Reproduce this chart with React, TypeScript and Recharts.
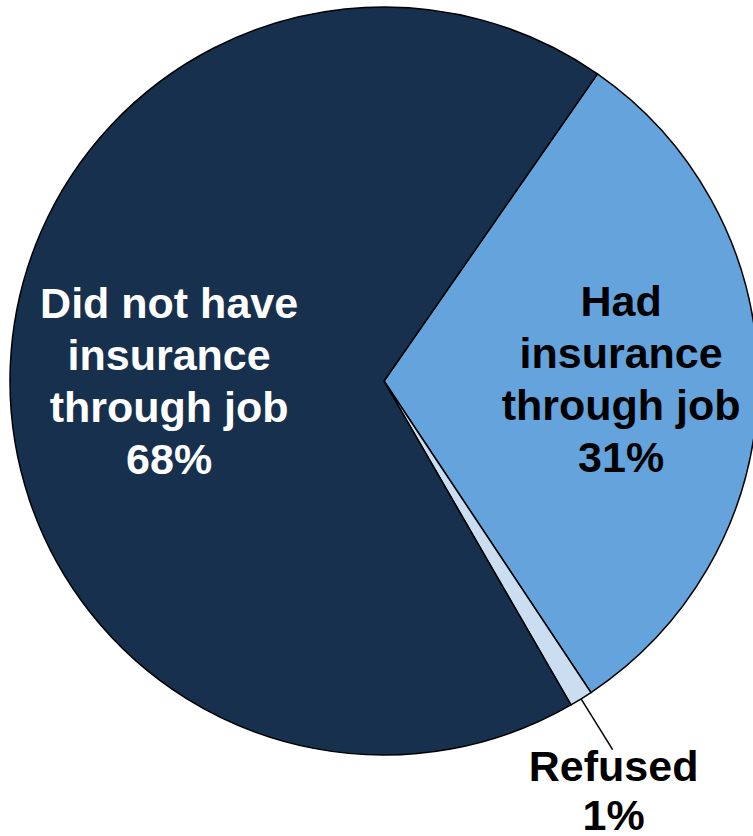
import { PieChart, Pie, Cell } from "recharts";

const categories = ["Had insurance through job", "Refused", "Did not have insurance through job"];
const values = [31, 1, 68];
const labelLines = [
  ["Had", "insurance", "through job", "31%"],
  ["Refused", "1%"],
  ["Did not have", "insurance", "through job", "68%"],
];
const colors = ["#65A3DD", "#CADDF1", "#16304E"];
const textColors = ["#000000", "#000000", "#FFFFFF"];

const data = categories.map((name, i) => ({ name, value: values[i] }));

const RADIAN = Math.PI / 180;
const FONT = "'Liberation Sans', Arial, sans-serif";
const FS = 43;
const LINE_H = 52;

// radius fraction + nudge for each label anchor
const labelPos = [
  { r: 0.634, dx: 0, dy: -4 },
  { r: 1.16, dx: 0, dy: 0 },
  { r: 0.575, dx: 0, dy: 9 },
];

function renderLabel(props: any) {
  const { cx, cy, midAngle, outerRadius, index } = props;
  const p = labelPos[index];
  const ax = cx + outerRadius * p.r * Math.cos(-midAngle * RADIAN) + p.dx;
  const ay = cy + outerRadius * p.r * Math.sin(-midAngle * RADIAN) + p.dy;
  const lines = labelLines[index];

  if (index === 1) {
    const ox = cx + outerRadius * Math.cos(-midAngle * RADIAN);
    const oy = cy + outerRadius * Math.sin(-midAngle * RADIAN);
    return (
      <g key="lbl-1">
        <line x1={ox} y1={oy} x2={ax} y2={ay} stroke="#000" strokeWidth={1.5} />
        {lines.map((t, i) => (
          <text
            key={i}
            x={ax + 1}
            y={ay + 31 + i * 49}
            textAnchor="middle"
            fontFamily={FONT}
            fontWeight="bold"
            fontSize={FS}
            fill={textColors[index]}
          >
            {t}
          </text>
        ))}
      </g>
    );
  }

  const n = lines.length;
  return (
    <g key={`lbl-${index}`}>
      {lines.map((t, i) => (
        <text
          key={i}
          x={ax}
          y={ay + (i - (n - 1) / 2) * LINE_H + 15}
          textAnchor="middle"
          fontFamily={FONT}
          fontWeight="bold"
          fontSize={FS}
          fill={textColors[index]}
        >
          {t}
        </text>
      ))}
    </g>
  );
}

export default function App() {
  return (
    <div style={{ position: "absolute", left: 0, top: 0, width: 753, height: 836, background: "#fff" }}>
      <PieChart width={753} height={836} margin={{ top: 0, right: 0, bottom: 0, left: 0 }}>
        <Pie
          data={data}
          dataKey="value"
          nameKey="name"
          cx={384}
          cy={381}
          outerRadius={374}
          startAngle={55.2}
          endAngle={-304.8}
          label={renderLabel}
          labelLine={false}
          isAnimationActive={false}
          stroke="#000"
          strokeWidth={1.5}
        >
          {data.map((d, i) => (
            <Cell key={d.name} fill={colors[i]} stroke="#000" strokeWidth={1.5} />
          ))}
        </Pie>
      </PieChart>
    </div>
  );
}
